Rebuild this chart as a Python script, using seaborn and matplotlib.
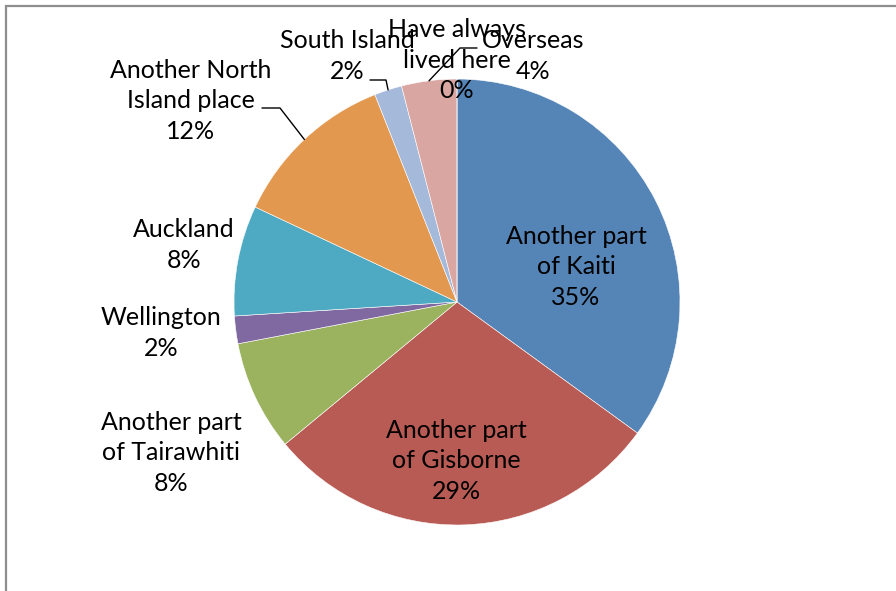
import numpy as np
import matplotlib
matplotlib.use('Agg')
import matplotlib.pyplot as plt
import matplotlib.patches as mpatches
import seaborn as sns

# ── Data ──────────────────────────────────────────────────────────────────────
places = ['Another part\nof Kaiti', 'Another part\nof Gisborne', 'Another part\nof Tairawhiti',
          'Wellington', 'Auckland', 'Another North\nIsland place', 'South Island',
          'Overseas', 'Have always\nlived here']
shares = [35, 29, 8, 2, 8, 12, 2, 4, 0]
colors = ['#5584B6', '#B95B55', '#9BB25E', '#8068A0', '#4EAAC2', '#E2994F',
          '#A5B9DB', '#D9A6A2', '#C5D89C']

# label centres (pixel coords, y from top) and optional leader start points
label_pos = [(576, 267), (456, 461), (171, 453), (161, 333), (184, 245),
             (191, 101), (347, 56), (533, 56), (457, 60)]
leader_start = {5: [(262, 108), (280, 108)],
                6: [(370, 80), (386, 80)],
                7: [(477, 48), (460, 48)]}

W, H = 896, 591
cx, cy, R = 457, 302, 223

sns.set_theme(style='white')
plt.rcParams['font.family'] = ['Lato', 'DejaVu Sans']

fig = plt.figure(figsize=(W / 100, H / 100), dpi=100)
ax = fig.add_axes([0, 0, 1, 1])
ax.set_xlim(0, W)
ax.set_ylim(0, H)
ax.axis('off')

wedges, _ = ax.pie(shares, colors=colors, startangle=90, counterclock=False,
                   center=(cx, H - cy), radius=R,
                   wedgeprops=dict(edgecolor='white', linewidth=0.4))
ax.set_xlim(0, W)
ax.set_ylim(0, H)

for i, (lab, val) in enumerate(zip(places, shares)):
    x, y = label_pos[i]
    ax.text(x, H - y, f'{lab}\n{val}%', ha='center', va='center',
            fontsize=18, color='black', linespacing=1.42)
    if i in leader_start:
        w = wedges[i]
        mid = np.deg2rad((w.theta1 + w.theta2) / 2)
        ex, ey = cx + R * np.cos(mid), (H - cy) + R * np.sin(mid)
        pts = leader_start[i]
        xs = [p[0] for p in pts] + [ex]
        ys = [H - p[1] for p in pts] + [ey]
        ax.plot(xs, ys, color='black', lw=1.0)

# chart area frame
frame = mpatches.Rectangle((6 / W, -0.1), 1.0, 1.1 - 6 / H, transform=fig.transFigure,
                           fill=False, edgecolor='#8E8E8E', linewidth=1.6)
fig.patches.append(frame)

fig.savefig('out.png', dpi=100)
